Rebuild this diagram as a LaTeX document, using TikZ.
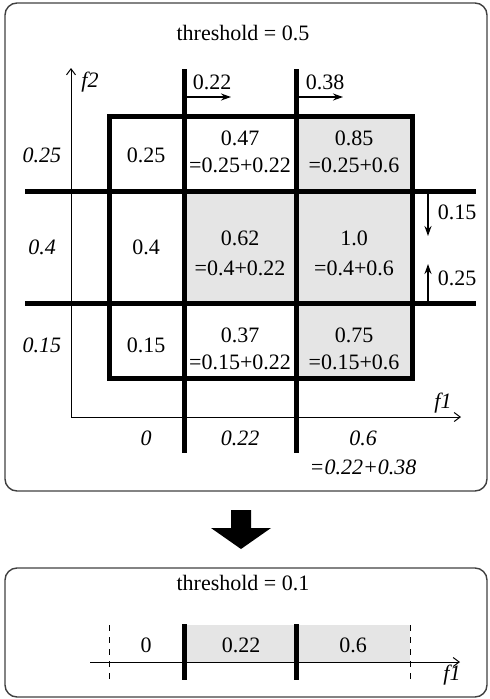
\documentclass[tikz,border=0pt]{standalone}
\usepackage{fontspec}
\setmainfont{Liberation Serif}
\usetikzlibrary{arrows.meta}
\begin{document}
\begin{tikzpicture}[x=1pt,y=-1pt,
  txt/.style={font=\fontsize{22}{27}\selectfont, inner sep=0pt, align=center},
  itxt/.style={font=\fontsize{22}{27}\selectfont\itshape, inner sep=0pt, align=center},
  thickline/.style={line width=5pt},
  panel/.style={draw=black!75, line width=1.4pt, rounded corners=12pt},
  axis/.style={line width=1pt, -{Straight Barb[length=6pt,width=9pt]}},
  shiftarrow/.style={line width=2.2pt, -{Stealth[length=10pt,width=7pt]}},
  cellfill/.style={fill=black!10}]
\useasboundingbox (0,0) rectangle (490,699);
% ---------- top panel ----------
\draw[panel] (5,3) rectangle (487,491);
\node[txt] (t1) at (243,33) {threshold = 0.5};
\fill[cellfill] (296,116) rectangle (412,191);
\fill[cellfill] (184,191) rectangle (412,303);
\fill[cellfill] (296,303) rectangle (412,378);
\coordinate (o) at (71,417);
\coordinate (ytop) at (71,68);
\coordinate (xend) at (461,417);
\draw[axis] (o) -- (ytop);
\draw[axis] (o) -- (xend);
\node[itxt] (f2) at (90,82) {f2};
\node[itxt] (f1) at (443,403) {f1};
\draw[thickline] (109,116) rectangle (412,378);
\draw[thickline] (184,69) -- (184,453);
\draw[thickline] (296,69) -- (296,453);
\draw[thickline] (25,191) -- (476,191);
\draw[thickline] (25,303) -- (476,303);
% shift arrows
\coordinate (a1s) at (184,97); \coordinate (a1e) at (231,97);
\coordinate (a2s) at (296,97); \coordinate (a2e) at (343,97);
\coordinate (a3s) at (428,191); \coordinate (a3e) at (428,236);
\coordinate (a4s) at (428,303); \coordinate (a4e) at (428,264);
\draw[shiftarrow] (a1s) -- (a1e);
\draw[shiftarrow] (a2s) -- (a2e);
\draw[shiftarrow] (a3s) -- (a3e);
\draw[shiftarrow] (a4s) -- (a4e);
\node[txt] (s1) at (212,82) {0.22};
\node[txt] (s2) at (325,82) {0.38};
\node[txt] (s3) at (457,212) {0.15};
\node[txt] (s4) at (457,278) {0.25};
% row labels
\node[itxt] (r1) at (42,155) {0.25};
\node[itxt] (r2) at (42,247) {0.4};
\node[itxt] (r3) at (42,345) {0.15};
% column labels
\node[itxt] (c1) at (146,438) {0};
\node[itxt] (c2) at (240,438) {0.22};
\node[itxt] (c3) at (363,438) {0.6};
\node[itxt] (c3b) at (363,467) {=0.22+0.38};
% cells
\node[txt] (m11) at (146,155) {0.25};
\node[txt] (m21) at (146,247) {0.4};
\node[txt] (m31) at (146,345) {0.15};
\node[txt] (m12) at (240,151.5) {0.47\\=0.25+0.22};
\node[txt] (m13) at (354,151.5) {0.85\\=0.25+0.6};
\node[txt] (m22) at (240,253) {0.62\\[3pt]=0.4+0.22};
\node[txt] (m23) at (354,253) {1.0\\[3pt]=0.4+0.6};
\node[txt] (m32) at (240,349) {0.37\\=0.15+0.22};
\node[txt] (m33) at (354,349) {0.75\\=0.15+0.6};
% ---------- big arrow ----------
\fill (231,510) -- (251,510) -- (251,528) -- (271,528) -- (241,549) -- (211,528) -- (231,528) -- cycle;
% ---------- bottom panel ----------
\draw[panel] (5,568) rectangle (487,697);
\node[txt] (t2) at (243,583) {threshold = 0.1};
\fill[cellfill] (184,625) rectangle (410,662);
\coordinate (bs) at (90,662);
\coordinate (be) at (460,662);
\draw[axis] (bs) -- (be);
\draw[line width=1pt, dash pattern=on 6pt off 6pt] (109,625) -- (109,680);
\draw[line width=1pt, dash pattern=on 6pt off 6pt] (410,625) -- (410,680);
\draw[thickline] (184,624) -- (184,680);
\draw[thickline] (296,624) -- (296,680);
\node[txt] (b1) at (146,645) {0};
\node[txt] (b2) at (241,645) {0.22};
\node[txt] (b3) at (353,645) {0.6};
\node[itxt] (bf1) at (452,675) {f1};
\end{tikzpicture}
\end{document}
